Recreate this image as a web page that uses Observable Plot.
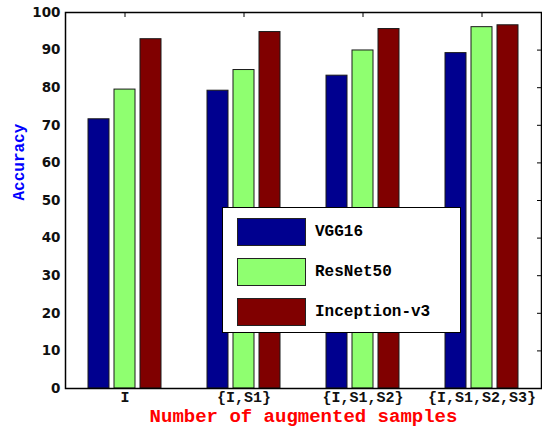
<!DOCTYPE html>
<html>
<head>
<meta charset="utf-8">
<script src="https://cdn.jsdelivr.net/npm/d3@7"></script>
<script src="https://cdn.jsdelivr.net/npm/@observablehq/plot@0.6"></script>
<style>
  html, body { margin: 0; padding: 0; background: #fff; }
  #wrap { position: relative; width: 542px; height: 427px; }
  #legend {
    position: absolute; left: 222px; top: 207px; width: 237px; height: 124px;
    border: 1px solid #000; background: #fff; box-sizing: content-box;
  }
  .item { position: absolute; left: 14px; height: 29px; display: flex; align-items: center; }
  .sw { width: 69px; height: 28px; border: 1px solid #222; box-sizing: border-box; }
  .lab { margin-left: 9px; font: bold 16px "Liberation Mono", "DejaVu Sans Mono", monospace; color: #000; }
</style>
</head>
<body>
<div id="wrap"></div>
<script>
const groups = ["I", "{I,S1}", "{I,S1,S2}", "{I,S1,S2,S3}"];
const models = ["VGG16", "ResNet50", "Inception-v3"];
const vgg16 = [71.6, 79.2, 83.2, 89.2];
const resnet50 = [79.5, 84.7, 89.9, 96.1];
const inceptionV3 = [92.9, 94.8, 95.6, 96.6];
const colors = ["#00008f", "#8fff70", "#800000"];
const yTicks = [0, 10, 20, 30, 40, 50, 60, 70, 80, 90, 100];

const series = [vgg16, resnet50, inceptionV3];
const data = [];
groups.forEach((g, i) => models.forEach((m, j) => data.push({group: g, model: m, value: series[j][i]})));

const mono = "Liberation Mono, DejaVu Sans Mono, monospace";

const chart = Plot.plot({
  width: 542, height: 427,
  marginLeft: 65, marginRight: 1, marginTop: 12, marginBottom: 39,
  fx: {domain: groups, padding: 0, label: null},
  x: {domain: models, paddingInner: 0.19, paddingOuter: 0.84, axis: null},
  y: {domain: [0, 100], label: null},
  color: {domain: models, range: colors},
  style: {background: "#fff", overflow: "visible"},
  marks: [
    Plot.barY(data, {fx: "group", x: "model", y: "value", fill: "model", stroke: "#1a1a1a", strokeWidth: 1}),
    Plot.axisY({ticks: yTicks, tickSize: 0, tickPadding: 5, fontSize: 13.5, fontWeight: "bold", fontFamily: "DejaVu Sans", fill: "#111", label: null}),
    Plot.axisY({anchor: "right", ticks: yTicks, tickSize: 5, dx: -5, tickFormat: () => "", label: null}),
    Plot.axisFx({anchor: "bottom", tickSize: 0, tickPadding: 3, fontSize: 15, fontWeight: "bold", fontFamily: mono, fill: "#111", label: null}),
    Plot.axisFx({anchor: "top", tickSize: 4, dy: 4, tickFormat: () => "", label: null}),
    Plot.frame({facet: "super", stroke: "#000", strokeWidth: 1.5}),
    Plot.text(["Number of augmented samples"], {facet: "super", frameAnchor: "bottom", dy: 27.5, lineAnchor: "middle", fill: "#ff0000", fontSize: 19, fontWeight: "bold", fontFamily: mono}),
    Plot.text(["Accuracy"], {facet: "super", frameAnchor: "left", dx: -47, rotate: -90, fill: "#0000ff", fontSize: 16, fontWeight: "bold", fontFamily: mono})
  ]
});

const wrap = document.getElementById("wrap");
wrap.appendChild(chart);

const legend = document.createElement("div");
legend.id = "legend";
models.forEach((m, j) => {
  const item = document.createElement("div");
  item.className = "item";
  item.style.top = (9 + j * 40) + "px";
  const sw = document.createElement("div");
  sw.className = "sw";
  sw.style.background = colors[j];
  const lab = document.createElement("span");
  lab.className = "lab";
  lab.textContent = m;
  item.appendChild(sw);
  item.appendChild(lab);
  legend.appendChild(item);
});
wrap.appendChild(legend);
</script>
</body>
</html>
